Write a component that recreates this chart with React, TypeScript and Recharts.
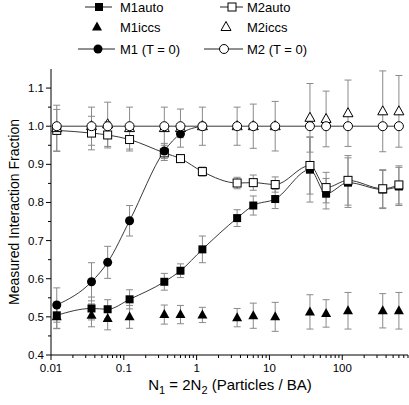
import React from "react"
import { ComposedChart, Line, XAxis, YAxis, ErrorBar, Legend } from "recharts"

// particle density N1 (Particles / BA)
const N = [0.012, 0.036, 0.06, 0.12, 0.36, 0.6, 1.2, 3.6, 6, 12, 36, 60, 120, 360, 600]
const N_T0_M1 = [0.012, 0.036, 0.06, 0.12, 0.36, 0.6, 1.2]

const m1Auto = [0.504, 0.522, 0.52, 0.546, 0.592, 0.621, 0.677, 0.759, 0.792, 0.809, 0.886, 0.823, 0.852, 0.834, 0.842]
const m1AutoErr = [0.035, 0.03, 0.025, 0.025, 0.022, 0.018, 0.035, 0.022, 0.025, 0.025, 0.085, 0.04, 0.065, 0.05, 0.05]
const m2Auto = [0.989, 0.982, 0.977, 0.965, 0.93, 0.915, 0.881, 0.851, 0.852, 0.847, 0.897, 0.839, 0.858, 0.836, 0.846]
const m2AutoErr = [0.055, 0.044, 0.034, 0.03, 0.02, 0.01, 0.012, 0.015, 0.02, 0.02, 0.075, 0.04, 0.065, 0.05, 0.05]
const m1Iccs = [0.5, 0.504, 0.496, 0.5, 0.506, 0.506, 0.505, 0.498, 0.503, 0.5, 0.513, 0.509, 0.516, 0.516, 0.516]
const m1IccsErr = [0.03, 0.03, 0.03, 0.03, 0.025, 0.024, 0.02, 0.024, 0.033, 0.038, 0.045, 0.036, 0.048, 0.045, 0.048]
const m2Iccs = [0.995, 1.0, 1.005, 0.995, 0.995, 0.995, 1.0, 1.0, 1.0, 1.0, 1.022, 1.019, 1.034, 1.039, 1.039]
const m2IccsErr = [0.06, 0.05, 0.058, 0.055, 0.055, 0.05, 0.05, 0.05, 0.058, 0.065, 0.09, 0.073, 0.087, 0.106, 0.094]
const m1T0 = [0.531, 0.592, 0.643, 0.752, 0.935, 0.98, 1.0]
const m1T0Err = [0.045, 0.05, 0.042, 0.04, 0.02, 0.01, 0.01]
const m2T0 = [1.0, 1.0, 1.0, 1.0, 1.0, 1.0, 1.0, 1.0, 1.0, 1.0, 1.0, 1.0, 1.0, 1.0, 1.0]

const X_MAJOR = [0.01, 0.1, 1, 10, 100]
const X_MULT = [2, 3, 4, 5, 6, 7, 8, 9]
const X_TICKS = [...X_MAJOR, ...X_MAJOR.flatMap((d) => X_MULT.map((m) => d * m)).filter((v) => v <= 800)]
const Y_MAJOR = [0.4, 0.5, 0.6, 0.7, 0.8, 0.9, 1.0, 1.1]
const Y_MINOR = [0.45, 0.55, 0.65, 0.75, 0.85, 0.95, 1.05]
const Y_TICKS = [...Y_MAJOR, ...Y_MINOR]

const FONT = '"Liberation Sans", Arial, sans-serif'
const ERR = "#8a8a8a"
const LINE = "#222"

const rows = (xs: number[], ys: number[], es?: number[]) =>
  xs.map((x, i) => ({ x, y: ys[i], e: es ? es[i] : 0 }))

const FilledSquare = ({ cx, cy }: any) => <rect x={cx - 4} y={cy - 4} width={8} height={8} fill="#000" />
const OpenSquare = ({ cx, cy }: any) => (
  <rect x={cx - 4} y={cy - 4} width={8} height={8} fill="#fff" stroke="#000" strokeWidth={1} />
)
const tri = (cx: number, cy: number) => `M${cx},${cy - 5.5}L${cx + 5},${cy + 3.5}L${cx - 5},${cy + 3.5}Z`
const FilledTri = ({ cx, cy }: any) => <path d={tri(cx, cy)} fill="#000" />
const OpenTri = ({ cx, cy }: any) => <path d={tri(cx, cy)} fill="#fff" stroke="#000" strokeWidth={1} />
const FilledCircle = ({ cx, cy }: any) => <circle cx={cx} cy={cy} r={4.5} fill="#000" />
const OpenCircle = ({ cx, cy }: any) => <circle cx={cx} cy={cy} r={4.5} fill="#fff" stroke="#000" strokeWidth={1} />

const dotOf = (Shape: any, tag: string) => (p: any) => <Shape key={`${tag}${p.index}`} cx={p.cx} cy={p.cy} />

function BottomTick({ x, y, payload }: any) {
  const major = X_MAJOR.includes(payload.value)
  return (
    <g>
      <line x1={x} x2={x} y1={y} y2={y + (major ? 5 : 3)} stroke="#000" />
      {major && (
        <text x={x} y={y + 17} textAnchor="middle" fontSize={11.5} fontFamily={FONT} fill="#000">
          {String(payload.value)}
        </text>
      )}
    </g>
  )
}

function TopTick({ x, y, payload }: any) {
  const major = X_MAJOR.includes(payload.value)
  return <line x1={x} x2={x} y1={y} y2={y + (major ? 5 : 3)} stroke="#000" />
}

function LeftTick({ x, y, payload }: any) {
  const major = Y_MAJOR.includes(payload.value)
  return (
    <g>
      <line x1={x - (major ? 5 : 3)} x2={x} y1={y} y2={y} stroke="#000" />
      {major && (
        <text x={x - 7} y={y + 4} textAnchor="end" fontSize={11.5} fontFamily={FONT} fill="#000">
          {payload.value.toFixed(1)}
        </text>
      )}
    </g>
  )
}

function RightTick({ x, y, payload }: any) {
  const major = Y_MAJOR.includes(payload.value)
  return <line x1={x - (major ? 5 : 3)} x2={x} y1={y} y2={y} stroke="#000" />
}

function YTitle() {
  return (
    <text x={14} y={212} transform="rotate(-90 14 212)" textAnchor="middle" dominantBaseline="central"
      fontSize={14} fontFamily={FONT} fill="#000">
      Measured Interaction Fraction
    </text>
  )
}

function XTitle() {
  return (
    <text x={230} y={390} textAnchor="middle" fontSize={15} fontFamily={FONT} fill="#000">
      N<tspan fontSize={11} dy={4}>1</tspan>
      <tspan dy={-4}> = 2N</tspan>
      <tspan fontSize={11} dy={4}>2</tspan>
      <tspan dy={-4}> (Particles / BA)</tspan>
    </text>
  )
}

function LegendBox() {
  const txt = (x: number, y: number, s: string) => (
    <text x={x} y={y} dominantBaseline="central" fontSize={13} fontFamily={FONT} fill="#000">{s}</text>
  )
  const seg = (x1: number, x2: number, y: number) => <line x1={x1} x2={x2} y1={y} y2={y} stroke={LINE} />
  return (
    <svg width={409} height={62} style={{ display: "block" }}>
      {seg(85, 112, 7)}
      <FilledSquare cx={99} cy={7} />
      {txt(120, 7, "M1auto")}
      {seg(220, 243, 7)}
      <OpenSquare cx={232} cy={7} />
      {txt(247, 7, "M2auto")}
      <FilledTri cx={97} cy={27} />
      {txt(120, 27, "M1iccs")}
      <OpenTri cx={226} cy={27} />
      {txt(247, 27, "M2iccs")}
      {seg(78, 115, 49)}
      <FilledCircle cx={98} cy={49} />
      {txt(120, 49, "M1 (T = 0)")}
      {seg(204, 243, 49)}
      <OpenCircle cx={224} cy={49} />
      {txt(247, 49, "M2 (T = 0)")}
    </svg>
  )
}

export default function App() {
  return (
    <div style={{ position: "absolute", left: 0, top: 0, fontFamily: FONT }}>
      <ComposedChart width={409} height={405} margin={{ top: 69, right: 1, bottom: 0, left: 0 }}>
        <XAxis xAxisId="b" type="number" dataKey="x" scale="log" domain={[0.01, 800]} allowDataOverflow
          ticks={X_TICKS} interval={0} tickSize={0} tickMargin={0} tickLine={false} tick={<BottomTick />}
          axisLine={{ stroke: "#000" }} height={50} label={<XTitle />} />
        <XAxis xAxisId="t" orientation="top" type="number" dataKey="x" scale="log" domain={[0.01, 800]}
          allowDataOverflow ticks={X_TICKS} interval={0} tickSize={0} tickMargin={0} tickLine={false}
          tick={<TopTick />} axisLine={{ stroke: "#000" }} height={0} />
        <YAxis yAxisId="l" type="number" domain={[0.4, 1.15]} allowDataOverflow ticks={Y_TICKS} interval={0}
          tickSize={0} tickMargin={0} tickLine={false} tick={<LeftTick />} axisLine={{ stroke: "#000" }}
          width={51} label={<YTitle />} />
        <YAxis yAxisId="r" orientation="right" type="number" domain={[0.4, 1.15]} allowDataOverflow
          ticks={Y_TICKS} interval={0} tickSize={0} tickMargin={0} tickLine={false} tick={<RightTick />}
          axisLine={{ stroke: "#000" }} width={0} />
        <Legend verticalAlign="middle" align="center" layout="horizontal"
          wrapperStyle={{ top: 0, left: 0, width: 409, height: 62 }} content={() => <LegendBox />} />

        <Line xAxisId="b" yAxisId="l" data={rows(N, m1Auto, m1AutoErr)} dataKey="y" name="M1auto"
          type="monotone" stroke={LINE} strokeWidth={0.9} dot={dotOf(FilledSquare, "a")} activeDot={false}
          isAnimationActive={false}>
          <ErrorBar dataKey="e" direction="y" width={3.5} stroke={ERR} strokeWidth={1} />
        </Line>
        <Line xAxisId="b" yAxisId="l" data={rows(N, m2Auto, m2AutoErr)} dataKey="y" name="M2auto"
          type="monotone" stroke={LINE} strokeWidth={0.9} dot={dotOf(OpenSquare, "b")} activeDot={false}
          isAnimationActive={false}>
          <ErrorBar dataKey="e" direction="y" width={3.5} stroke={ERR} strokeWidth={1} />
        </Line>
        <Line xAxisId="b" yAxisId="l" data={rows(N, m1Iccs, m1IccsErr)} dataKey="y" name="M1iccs"
          stroke="none" dot={dotOf(FilledTri, "c")} activeDot={false} isAnimationActive={false}>
          <ErrorBar dataKey="e" direction="y" width={3.5} stroke={ERR} strokeWidth={1} />
        </Line>
        <Line xAxisId="b" yAxisId="l" data={rows(N, m2Iccs, m2IccsErr)} dataKey="y" name="M2iccs"
          stroke="none" dot={dotOf(OpenTri, "d")} activeDot={false} isAnimationActive={false}>
          <ErrorBar dataKey="e" direction="y" width={3.5} stroke={ERR} strokeWidth={1} />
        </Line>
        <Line xAxisId="b" yAxisId="l" data={rows(N_T0_M1, m1T0, m1T0Err)} dataKey="y" name="M1 (T = 0)"
          type="monotone" stroke={LINE} strokeWidth={0.9} dot={dotOf(FilledCircle, "e")} activeDot={false}
          isAnimationActive={false}>
          <ErrorBar dataKey="e" direction="y" width={3.5} stroke={ERR} strokeWidth={1} />
        </Line>
        <Line xAxisId="b" yAxisId="l" data={rows(N, m2T0)} dataKey="y" name="M2 (T = 0)"
          type="monotone" stroke={LINE} strokeWidth={0.9} dot={dotOf(OpenCircle, "f")} activeDot={false}
          isAnimationActive={false} />
      </ComposedChart>
    </div>
  )
}
